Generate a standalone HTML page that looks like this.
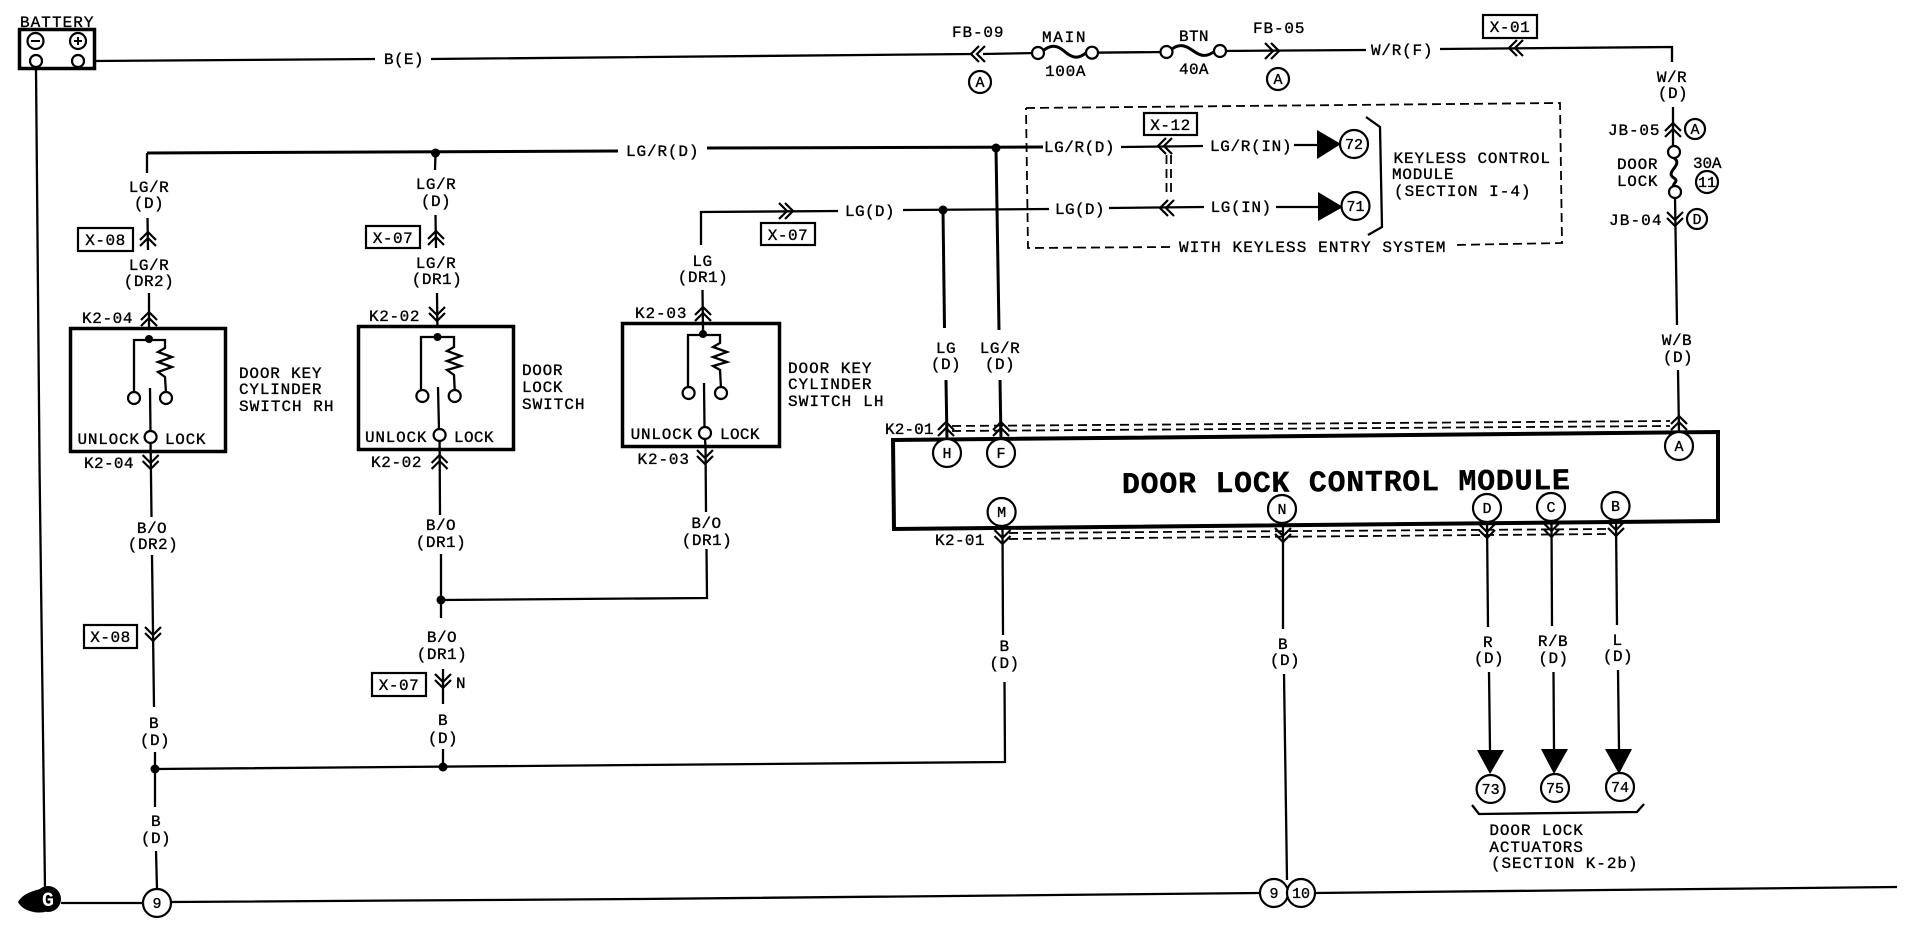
<!DOCTYPE html>
<html><head><meta charset="utf-8"><style>
html,body{margin:0;padding:0;background:#fff}
svg{display:block}
text{font-family:"Liberation Mono",monospace;font-size:16px;fill:#000;stroke:#000;stroke-width:.35px;letter-spacing:.5px}
.m{text-anchor:middle}
.w{fill:none;stroke:#000;stroke-width:2.3}
.t{fill:none;stroke:#000;stroke-width:3}
.b{fill:#fff;stroke:#000;stroke-width:3.5}
.c{fill:#fff;stroke:#000;stroke-width:2.2}
.d{fill:none;stroke:#000;stroke-width:1.8;stroke-dasharray:9 5}
.a{fill:none;stroke:#000;stroke-width:2.2}
.n{font-size:15px;letter-spacing:0;text-anchor:middle}
</style></head><body>
<svg width="1918" height="944" viewBox="0 0 1918 944" xmlns="http://www.w3.org/2000/svg">
<defs>
<path id="u" class="a" d="M-8,2 L0,-6 L8,2 M-8,8 L0,0 L8,8"/>
<path id="v" class="a" d="M-8,-8 L0,0 L8,-8 M-8,-2 L0,6 L8,-2"/>
<path id="l" class="a" d="M2,-8 L-6,0 L2,8 M8,-8 L0,0 L8,8"/>
<path id="r" class="a" d="M-8,-8 L0,0 L-8,8 M-2,-8 L6,0 L-2,8"/>
</defs>
<rect width="1918" height="944" fill="#fff"/>

<!-- top supply -->
<path class="w" d="M95,61 L375,59 M431,59 L973,54 M983,54 L1038,53 M1092,52.7 L1166.5,52 M1220,51 L1366,50 M1440,49 L1672,47 L1672,62"/>
<path class="w" d="M36,69 L39.6,472 L45,889"/>
<path class="w" d="M61,903 L143,903 M171,902 L640,899 L1260,893 M1315,893 L1897,887"/>

<!-- LG/R top wire -->
<path class="t" d="M147,153 L618,151"/>
<path class="w" d="M147,153 L147,173 M147.5,218 L148,250 M149,293 L149,338"/>
<path class="w" d="M435.5,153 L435,170 M435.5,215 L436,248 M437,293 L437.5,337"/>
<path class="t" d="M707,148 L1043,147"/>
<path class="w" d="M1121,147 L1203,146 M1294,145 L1317,145"/>
<path class="w" d="M701,245 L701,212 L838,211 M903,210 L1049,209 M1109,208 L1204,207 M1276,207 L1318,207"/>
<path class="t" d="M943,210 L944.5,328 M946,380 L947,440"/>
<path class="t" d="M996,148 L999,330 M1000,380 L1001,440"/>

<!-- JB side -->
<path class="w" d="M1673,107 L1673,147 M1675,197 L1677,325 M1678,370 L1679,432"/>
<path class="t" d="M1674,158 C1684,165 1664,172 1674,178 C1680,182 1670,184 1675,187"/>

<!-- switch verticals lower -->
<path class="w" d="M702.5,290 L703,333 M705.5,443 L706,512 M706.5,549 L707,598 L441,600"/>
<path class="w" d="M150.6,443 L151.5,517 M152,555 L154,707 M155,752 L155,807 M156,851 L157,889"/>
<path class="w" d="M439.6,442 L440,515 M441,554 L441,618 M443,669 L443,704 M443,749 L443,767"/>
<path class="w" d="M155,769 L640,765 L1005,762 L1004.5,682 M1003,635 L1002.5,529"/>
<path class="w" d="M1283,522 L1283,629 M1284,674 L1287,880"/>
<path class="w" d="M1487,522 L1488,627 M1489,672 L1490,750"/>
<path class="w" d="M1551.5,522 L1552,626 M1553.5,672 L1554,749"/>
<path class="w" d="M1616,522 L1617,625 M1618,670 L1619,749"/>

<!-- dashed box -->
<path class="d" d="M1026,108 L1560,103 L1562,243 L1453,245 M1170,247 L1028,248 L1026,108"/>
<path class="d" d="M1166.5,155 L1166.5,195 M1171,155 L1171,195"/>

<!-- module dashes -->
<path class="d" d="M952,426 L1670,421 M952,431 L1670,426"/>
<path class="d" d="M1009,533 L1608,529 M1009,539 L1608,534"/>

<!-- battery -->
<rect class="b" x="19.5" y="29.5" width="75" height="39"/>
<circle class="c" cx="35.5" cy="41" r="8"/><circle class="c" cx="78" cy="41" r="8"/>
<circle class="c" cx="36" cy="61" r="6"/><circle class="c" cx="78" cy="61" r="6"/>
<path d="M31,41 L40,41 M74,41 L82,41 M78,37 L78,45" stroke="#000" stroke-width="2" fill="none"/>
<text x="20" y="27" textLength="74">BATTERY</text>

<!-- fuses -->
<path class="t" d="M1044,50 C1052,44 1058,46 1064,51 C1072,58 1078,60 1087,52"/>
<path class="t" d="M1172,49 C1180,43 1186,46 1192,50 C1200,56 1206,58 1215,51"/>
<circle class="c" cx="1038" cy="53" r="6"/><circle class="c" cx="1092" cy="52.7" r="6"/>
<circle class="c" cx="1166.5" cy="52" r="6"/><circle class="c" cx="1220" cy="51" r="6"/>
<circle class="c" cx="1674" cy="152" r="6"/><circle class="c" cx="1675" cy="192" r="6"/>

<!-- switch 1 -->
<rect class="b" x="70.5" y="328.5" width="155" height="123"/>
<path class="w" d="M149,338 L149,340 M134,393 L134,340 L165,340 L165,348 L158,352 L172,357 L158,362 L172,367 L158,372 L165,377 L166,393 M150,388 L150.5,432 M150.6,443 L150.6,452"/>
<circle cx="149" cy="339" r="4"/>
<circle class="c" cx="134" cy="398" r="6"/><circle class="c" cx="166" cy="398" r="6"/><circle class="c" cx="150.6" cy="437" r="6"/>
<text x="77.5" y="444" textLength="62">UNLOCK</text><text x="165" y="444" textLength="41">LOCK</text>
<text x="82" y="323" textLength="51">K2-04</text><text x="84" y="468" textLength="50">K2-04</text>
<text x="239" y="378" textLength="83" xml:space="preserve">DOOR KEY</text><text x="239" y="394" textLength="83">CYLINDER</text><text x="239" y="411" textLength="95" xml:space="preserve">SWITCH RH</text>

<!-- switch 2 -->
<rect class="b" x="358.5" y="326.5" width="155" height="123"/>
<path class="w" d="M421,390 L421,337 L454,337 L454,347 L447,351 L461,356 L447,361 L461,366 L447,370 L454,375 L454.7,390 M438,387 L439,430 M439.6,442 L439.6,450"/>
<circle cx="437.5" cy="337" r="4"/>
<circle class="c" cx="422.4" cy="396" r="6"/><circle class="c" cx="454.7" cy="396" r="6"/><circle class="c" cx="439.6" cy="435" r="6"/>
<text x="365" y="442" textLength="62">UNLOCK</text><text x="454" y="442" textLength="40">LOCK</text>
<text x="369" y="321" textLength="51">K2-02</text><text x="371" y="467" textLength="51">K2-02</text>
<text x="522" y="375" textLength="41">DOOR</text><text x="522" y="392" textLength="41">LOCK</text><text x="522" y="409" textLength="63">SWITCH</text>

<!-- switch 3 -->
<rect class="b" x="622.5" y="323.5" width="157" height="123"/>
<path class="w" d="M703,323 L703,334 M688,388 L688,335 L720,335 L720,343 L713,347 L727,352 L713,357 L727,362 L713,366 L720,370 L721,388 M704,383 L704.5,428 M705,439 L705.5,447"/>
<circle cx="703" cy="334" r="4"/>
<circle class="c" cx="688.6" cy="393" r="6"/><circle class="c" cx="721" cy="393" r="6"/><circle class="c" cx="705" cy="433" r="6"/>
<text x="630.6" y="439" textLength="62">UNLOCK</text><text x="720" y="439" textLength="40">LOCK</text>
<text x="635" y="318" textLength="52">K2-03</text><text x="637.5" y="464" textLength="52">K2-03</text>
<text x="788" y="373" textLength="84" xml:space="preserve">DOOR KEY</text><text x="788" y="389" textLength="84">CYLINDER</text><text x="788" y="406" textLength="96" xml:space="preserve">SWITCH LH</text>

<!-- module -->
<path d="M893,440 L1718,432 L1718,521 L894,529 Z" fill="none" stroke="#000" stroke-width="4"/>
<text transform="translate(1122,493) rotate(-.5)" style="font-size:30px;font-weight:bold;letter-spacing:0" textLength="448">DOOR LOCK CONTROL MODULE</text>
<circle class="c" cx="947" cy="453" r="14"/><text class="n" x="947" y="458">H</text>
<circle class="c" cx="1001" cy="453" r="14"/><text class="n" x="1001" y="458">F</text>
<circle class="c" cx="1679" cy="446" r="14"/><text class="n" x="1679" y="451">A</text>
<circle class="c" cx="1001.6" cy="512" r="14"/><text class="n" x="1001.6" y="517">M</text>
<circle class="c" cx="1282" cy="509" r="14"/><text class="n" x="1282" y="514">N</text>
<circle class="c" cx="1487" cy="508" r="14"/><text class="n" x="1487" y="513">D</text>
<circle class="c" cx="1551" cy="507" r="14"/><text class="n" x="1551" y="512">C</text>
<circle class="c" cx="1615.5" cy="506" r="14"/><text class="n" x="1615.5" y="511">B</text>

<!-- junctions -->
<circle cx="435.5" cy="153" r="4.5"/><circle cx="996" cy="148" r="4.5"/><circle cx="943" cy="210" r="4.5"/>
<circle cx="441" cy="600" r="4.5"/><circle cx="155" cy="769" r="4.5"/><circle cx="443" cy="767" r="4.5"/>

<!-- connectors -->
<use href="#l" x="977" y="54"/><use href="#r" x="1273" y="51"/><use href="#l" x="1515" y="48"/>
<use href="#l" x="1164" y="146"/><use href="#l" x="1166" y="208"/><use href="#r" x="787" y="211"/>
<use href="#u" x="148" y="238"/><use href="#u" x="436" y="237"/><use href="#u" x="149" y="318"/><use href="#v" x="437" y="315"/><use href="#u" x="703" y="313"/>
<use href="#v" x="150.6" y="463"/><use href="#u" x="439.6" y="461"/><use href="#v" x="705" y="458"/>
<use href="#v" x="153" y="635"/><use href="#v" x="443" y="682"/>
<use href="#u" x="946" y="428"/><use href="#u" x="1001" y="428"/><use href="#u" x="1679" y="422"/><use href="#u" x="1673" y="129"/><use href="#v" x="1675" y="220"/>
<use href="#v" x="1002.5" y="538"/><use href="#v" x="1283" y="536"/><use href="#v" x="1487" y="532"/><use href="#v" x="1551.5" y="531"/><use href="#v" x="1616" y="530"/>

<!-- arrows -->
<path d="M1317,130 L1317,159 L1341,144 Z M1318,192 L1318,221 L1343,207 Z M1477,750 L1504,750 L1490,774 Z M1541,749 L1568,749 L1554,774 Z M1605,749 L1632,749 L1619,774 Z"/>
<circle class="c" cx="1354" cy="144" r="14"/><text class="n" x="1354" y="149">72</text>
<circle class="c" cx="1355.5" cy="206" r="14"/><text class="n" x="1355.5" y="211">71</text>
<circle class="c" cx="1490.6" cy="789" r="14"/><text class="n" x="1490.6" y="794">73</text>
<circle class="c" cx="1555" cy="788" r="14"/><text class="n" x="1555" y="793">75</text>
<circle class="c" cx="1620" cy="787" r="14"/><text class="n" x="1620" y="792">74</text>

<!-- brackets -->
<path class="w" d="M1366,117 L1380,127 L1382,227 L1368,235"/>
<path class="w" d="M1472,805 L1479,814 L1637,812 L1644,804"/>

<!-- tags -->
<g fill="#fff" stroke="#000" stroke-width="2.2">
<rect x="78" y="228" width="55" height="23"/><rect x="366" y="226" width="54" height="22"/>
<rect x="761" y="223" width="54" height="22"/><rect x="1144" y="113" width="53" height="22"/>
<rect x="1483" y="15" width="54" height="23"/><rect x="84" y="625" width="53" height="23"/>
<rect x="372" y="673" width="54" height="23"/>
</g>
<text x="105.5" y="245" class="m">X-08</text><text x="393" y="243" class="m">X-07</text><text x="788" y="240" class="m">X-07</text>
<text x="1170.5" y="130" class="m">X-12</text><text x="1510" y="32" class="m">X-01</text><text x="110.5" y="642" class="m">X-08</text><text x="399" y="690" class="m">X-07</text>

<!-- circled refs -->
<circle class="c" cx="980" cy="82" r="11"/><text class="n" x="980" y="87">A</text>
<circle class="c" cx="1278" cy="79" r="11"/><text class="n" x="1278" y="84">A</text>
<circle class="c" cx="1695" cy="129" r="10"/><text class="n" x="1695" y="134">A</text>
<circle class="c" cx="1707" cy="182" r="11"/><text class="n" x="1707" y="187">11</text>
<circle class="c" cx="1697" cy="219" r="10"/><text class="n" x="1697" y="224">D</text>

<!-- ground -->
<path d="M18,902 C22,895 30,891 45,888 L45,912 C34,914 22,910 18,902 Z"/>
<circle cx="48" cy="899" r="13"/>
<text class="m" x="48" y="906" style="font-size:20px;font-weight:bold;fill:#fff;stroke:none;letter-spacing:0">G</text>
<circle class="c" cx="157" cy="903" r="14"/><text class="n" x="157" y="908">9</text>
<circle class="c" cx="1274" cy="893" r="14"/><text class="n" x="1274" y="898">9</text>
<circle class="c" cx="1301" cy="893" r="14"/><text class="n" x="1301" y="898">10</text>

<!-- wire labels -->
<text x="384" y="64" textLength="40">B(E)</text>
<text x="952" y="37" textLength="52">FB-09</text><text x="1042" y="42" textLength="44">MAIN</text><text x="1045" y="76" textLength="41">100A</text>
<text x="1179" y="41" textLength="30">BTN</text><text x="1179" y="74" textLength="30">40A</text>
<text x="1253" y="33" textLength="52">FB-05</text><text x="1371" y="55" textLength="62">W/R(F)</text>
<text x="626" y="156" textLength="73">LG/R(D)</text><text x="1044" y="152" textLength="71">LG/R(D)</text><text x="1210" y="151" textLength="82">LG/R(IN)</text>
<text x="845" y="216" textLength="50">LG(D)</text><text x="1055" y="214" textLength="50">LG(D)</text><text x="1210.6" y="212" textLength="61">LG(IN)</text>
<text x="1179" y="252" textLength="267" xml:space="preserve">WITH KEYLESS ENTRY SYSTEM</text>
<text x="1393.5" y="163" textLength="157" xml:space="preserve">KEYLESS CONTROL</text><text x="1392" y="179" textLength="62">MODULE</text><text x="1394" y="196" textLength="137" xml:space="preserve">(SECTION I-4)</text>
<g class="m">
<text class="m" x="149" y="192">LG/R</text><text class="m" x="149" y="208">(D)</text>
<text class="m" x="149" y="270">LG/R</text><text class="m" x="149" y="286">(DR2)</text>
<text class="m" x="436" y="189">LG/R</text><text class="m" x="436" y="206">(D)</text>
<text class="m" x="436" y="268">LG/R</text><text class="m" x="437" y="284">(DR1)</text>
<text class="m" x="702.5" y="266">LG</text><text class="m" x="703" y="282">(DR1)</text>
<text class="m" x="946" y="353">LG</text><text class="m" x="946" y="369">(D)</text>
<text class="m" x="1000" y="353">LG/R</text><text class="m" x="1000" y="369">(D)</text>
<text class="m" x="1672" y="82">W/R</text><text class="m" x="1673" y="98">(D)</text>
<text class="m" x="1677" y="345">W/B</text><text class="m" x="1678" y="362">(D)</text>
<text class="m" x="152" y="533">B/O</text><text class="m" x="153" y="549">(DR2)</text>
<text class="m" x="154" y="728">B</text><text class="m" x="155" y="745">(D)</text>
<text class="m" x="156" y="826">B</text><text class="m" x="156" y="843">(D)</text>
<text class="m" x="441" y="530">B/O</text><text class="m" x="441" y="547">(DR1)</text>
<text class="m" x="442" y="642">B/O</text><text class="m" x="442" y="659">(DR1)</text>
<text class="m" x="443" y="725">B</text><text class="m" x="443" y="743">(D)</text>
<text class="m" x="706.5" y="528">B/O</text><text class="m" x="707" y="545">(DR1)</text>
<text class="m" x="1004.5" y="651">B</text><text class="m" x="1004.5" y="668">(D)</text>
<text class="m" x="1283" y="649">B</text><text class="m" x="1285" y="665">(D)</text>
<text class="m" x="1488" y="647">R</text><text class="m" x="1489" y="663">(D)</text>
<text class="m" x="1553" y="646">R/B</text><text class="m" x="1553.5" y="663">(D)</text>
<text class="m" x="1617.6" y="645">L</text><text class="m" x="1618" y="661">(D)</text>
</g>
<text x="461" y="688" class="m">N</text>
<text x="1608" y="135" textLength="52">JB-05</text><text x="1609" y="225" textLength="53">JB-04</text>
<text x="1617" y="169" textLength="41">DOOR</text><text x="1617" y="186" textLength="41">LOCK</text><text x="1693" y="168" textLength="29">30A</text>
<text x="885" y="434" textLength="49">K2-01</text><text x="935" y="545" textLength="50">K2-01</text>
<text x="1489.4" y="835" textLength="94" xml:space="preserve">DOOR LOCK</text><text x="1489.4" y="852" textLength="94">ACTUATORS</text><text x="1491" y="868" textLength="147" xml:space="preserve">(SECTION K-2b)</text>
</svg>
</body></html>
